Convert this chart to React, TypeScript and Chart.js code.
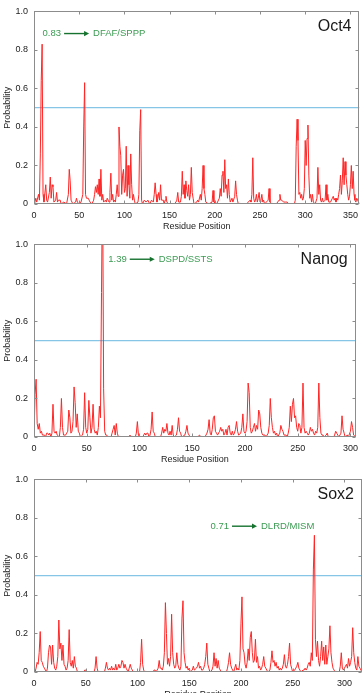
import React, { useEffect, useRef } from 'react';
import { Chart, registerables } from 'chart.js';

Chart.register(...registerables);

// ---------- data ----------
const panelNames = ['Oct4', 'Nanog', 'Sox2'];
const residueMax = [360, 305, 317];
const xTickValues = [0, 50, 100, 150, 200, 250, 300, 350];
const yTickValues = [0, 0.2, 0.4, 0.6, 0.8, 1.0];
const threshold = 0.5;

// [residue position, probability]
const oct4Probability: [number, number][] = [
  [0,0],[1,0.01],[2,0.03],[3,0.01],[5,0.05],[6,0.02],[7,0.26],[8,0.64],[9,0.83],[10,0.05],[11,0.01],[13,0.1],[14,0.02],[15,0.01],[17,0.06],[18,0.14],[19,0.03],[20,0.1],[21,0.09],[22,0.01],[24,0.02],[25,0.06],[26,0.01],[27,0.02],[29,0.02],[30,0],[33,0.01],[36,0],[38,0.05],[39,0.18],[40,0.12],[41,0.02],[43,0],[46,0.01],[47,0.03],[48,0.01],[50,0],[52,0.01],[54,0.05],[55,0.4],[56,0.63],[57,0.05],[58,0.03],[60,0.03],[61,0.02],[62,0.01],[64,0],[66,0.02],[67,0.05],[68,0.09],[69,0.06],[70,0.1],[71,0.05],[72,0.13],[73,0.04],[74,0.18],[75,0.02],[76,0.05],[77,0.01],[79,0.02],[80,0.01],[81,0.03],[82,0.02],[83,0.01],[84,0.06],[85,0.16],[86,0.02],[87,0.05],[88,0.01],[89,0.02],[90,0.01],[91,0.05],[92,0.1],[93,0.04],[94,0.4],[95,0.3],[96,0.25],[97,0.05],[98,0.15],[99,0.18],[100,0.06],[101,0.08],[102,0.3],[103,0.04],[104,0.2],[105,0.1],[106,0.03],[107,0.26],[108,0.1],[109,0.02],[110,0.05],[111,0.02],[112,0],[115,0.01],[116,0.05],[117,0.38],[118,0.49],[119,0.02],[120,0],[122,0.02],[124,0.01],[126,0.02],[128,0],[130,0.02],[132,0.01],[133,0.05],[134,0.11],[135,0.05],[136,0.01],[137,0.03],[138,0.06],[139,0.02],[140,0.1],[141,0.02],[143,0.02],[144,0],[145,0.02],[146,0.04],[147,0.01],[149,0],[155,0],[157,0.01],[158,0.02],[159,0.06],[160,0.01],[162,0.01],[163,0.04],[164,0.17],[165,0.05],[166,0.1],[167,0.03],[168,0.12],[169,0.07],[170,0.04],[171,0.1],[172,0.02],[173,0.05],[174,0.19],[175,0.06],[176,0.03],[177,0],[180,0.01],[181,0.02],[182,0.01],[184,0.05],[185,0.02],[186,0.08],[187,0.2],[188,0.08],[189,0.05],[190,0.01],[193,0],[197,0.01],[198,0.07],[199,0.01],[202,0],[205,0.03],[206,0.08],[207,0.04],[208,0.15],[209,0.17],[210,0.06],[211,0.23],[212,0.08],[213,0.1],[214,0.03],[215,0.13],[216,0.05],[217,0.01],[219,0.03],[220,0.01],[222,0.04],[223,0.12],[224,0.05],[225,0.02],[226,0],[235,0],[237,0.01],[239,0.02],[240,0.01],[241,0.05],[242,0.24],[243,0.03],[244,0.01],[245,0.02],[246,0.05],[247,0.01],[248,0.03],[249,0.06],[250,0.01],[251,0.02],[252,0.05],[253,0.01],[254,0.02],[255,0],[259,0.02],[260,0.08],[261,0.01],[263,0],[268,0],[271,0.02],[272,0.05],[273,0.02],[274,0.02],[276,0.01],[278,0.01],[280,0.01],[282,0],[288,0],[289,0.02],[290,0.3],[291,0.44],[292,0.33],[293,0.05],[294,0.06],[295,0.03],[296,0.05],[297,0.02],[298,0.03],[299,0.08],[300,0.33],[301,0.2],[302,0.34],[303,0.41],[304,0.15],[305,0.03],[306,0.05],[307,0.01],[308,0.05],[309,0.01],[311,0],[313,0.03],[314,0.19],[315,0.05],[316,0.1],[317,0.02],[318,0.01],[319,0.03],[320,0.01],[322,0.02],[323,0.1],[324,0.02],[325,0.05],[326,0.01],[328,0.01],[330,0.03],[331,0.04],[332,0.02],[333,0.03],[334,0.01],[335,0.03],[336,0.02],[337,0.05],[338,0.08],[339,0.15],[340,0.05],[341,0.12],[342,0.24],[343,0.1],[344,0.22],[345,0.15],[346,0.1],[347,0.05],[348,0.02],[349,0.04],[350,0.1],[351,0.2],[352,0.08],[353,0.17],[354,0.05],[355,0.02],[356,0.01],[357,0.03],[359,0.01],[360,0]
];

const nanogProbability: [number, number][] = [
  [0,0],[1,0.22],[2,0.3],[3,0.07],[4,0.04],[5,0.07],[6,0.02],[7,0.03],[8,0.01],[10,0.01],[11,0],[12,0.02],[13,0.02],[14,0.01],[15,0.02],[16,0],[17,0.02],[18,0.17],[19,0.03],[20,0.02],[21,0.03],[22,0.01],[24,0],[25,0.05],[26,0.2],[27,0.05],[28,0.01],[30,0.01],[31,0.02],[32,0.03],[33,0.14],[34,0.1],[35,0.02],[36,0.03],[37,0.08],[38,0.26],[39,0.18],[40,0.05],[41,0.12],[42,0.03],[43,0.02],[44,0],[46,0.01],[47,0.04],[48,0.23],[49,0.05],[50,0.02],[51,0.04],[52,0.19],[53,0.1],[54,0.02],[55,0.05],[56,0.17],[57,0.04],[58,0.02],[59,0.03],[60,0.01],[61,0.05],[62,0.16],[63,0.1],[64,0.75],[65,1.39],[66,0.25],[67,0.03],[68,0.01],[69,0.01],[70,0],[73,0],[74,0.02],[75,0.04],[76,0.06],[77,0.01],[78,0.07],[79,0.02],[80,0],[90,0],[91,0.01],[92,0],[96,0],[97,0.02],[98,0.08],[99,0.01],[100,0],[103,0],[104,0.01],[105,0.02],[106,0.01],[107,0.02],[108,0.02],[109,0],[110,0.01],[111,0.04],[112,0.13],[113,0.03],[114,0.02],[115,0],[120,0],[121,0.02],[122,0.05],[123,0.02],[124,0.04],[125,0.03],[126,0.07],[127,0.02],[128,0.01],[129,0.03],[130,0.01],[131,0.06],[132,0.01],[133,0],[135,0.01],[136,0.04],[137,0.1],[138,0.03],[139,0.02],[140,0],[143,0.01],[144,0.03],[145,0.06],[146,0.02],[147,0.01],[148,0],[155,0],[157,0.01],[158,0],[162,0],[163,0.01],[164,0.02],[165,0.04],[166,0.09],[167,0.02],[168,0.01],[169,0.04],[170,0.1],[171,0.11],[172,0.03],[173,0.02],[174,0.01],[176,0.03],[177,0.05],[178,0.03],[179,0.04],[180,0.01],[181,0.02],[182,0.04],[183,0.01],[184,0.05],[185,0.06],[186,0.02],[187,0.01],[188,0.03],[189,0.01],[190,0.02],[191,0.04],[192,0.08],[193,0.03],[194,0.01],[196,0.02],[197,0.05],[198,0.12],[199,0.03],[200,0.02],[201,0.03],[202,0.08],[203,0.28],[204,0.23],[205,0.05],[206,0.02],[207,0.03],[208,0.05],[209,0.07],[210,0.03],[211,0.06],[212,0.04],[213,0.14],[214,0.12],[215,0.05],[216,0.02],[217,0.01],[219,0.01],[220,0],[222,0.02],[223,0.06],[224,0.2],[225,0.1],[226,0.05],[227,0.02],[228,0.03],[229,0.01],[230,0.02],[231,0],[233,0.02],[234,0.06],[235,0.04],[236,0.03],[237,0.01],[239,0.01],[240,0],[241,0.02],[242,0.05],[243,0.16],[244,0.08],[245,0.17],[246,0.2],[247,0.1],[248,0.11],[249,0.05],[250,0.03],[251,0.07],[252,0.06],[253,0.02],[254,0.05],[255,0.28],[256,0.05],[257,0.02],[258,0.03],[259,0.02],[260,0.01],[261,0.02],[262,0.05],[263,0.03],[264,0.04],[265,0.02],[266,0.01],[267,0.03],[268,0.02],[269,0.05],[270,0.28],[271,0.1],[272,0.02],[273,0.01],[274,0.01],[275,0],[277,0.01],[278,0.02],[279,0],[284,0],[285,0.01],[286,0.03],[287,0.02],[288,0.01],[289,0],[291,0.02],[292,0.11],[293,0.04],[294,0.02],[295,0],[297,0.01],[298,0],[300,0.03],[301,0.08],[302,0.05],[303,0.01],[305,0]
];

const sox2Probability: [number, number][] = [
  [0,0],[1,0],[2,0.02],[3,0.05],[4,0.04],[5,0.1],[6,0.21],[7,0.06],[8,0.05],[9,0.03],[10,0.02],[11,0.01],[12,0],[13,0.02],[14,0.1],[15,0.14],[16,0.13],[17,0.04],[18,0.14],[19,0.05],[20,0.02],[21,0.01],[22,0.03],[23,0.08],[24,0.27],[25,0.12],[26,0.15],[27,0.06],[28,0.14],[29,0.04],[30,0.03],[31,0.01],[32,0.02],[33,0.06],[34,0.22],[35,0.05],[36,0.03],[37,0.06],[38,0.02],[39,0.08],[40,0.03],[41,0.02],[42,0],[48,0],[49,0.01],[50,0.01],[51,0],[58,0],[59,0.02],[60,0.08],[61,0.02],[62,0],[68,0],[69,0.02],[70,0.05],[71,0.02],[72,0.01],[73,0.02],[74,0.01],[75,0.03],[76,0.01],[77,0.02],[78,0.01],[79,0.04],[80,0.01],[81,0.02],[82,0.04],[83,0.02],[84,0.03],[85,0.06],[86,0.05],[87,0.02],[88,0.04],[89,0.02],[90,0.01],[91,0],[92,0.02],[93,0.04],[94,0.02],[95,0.01],[96,0],[102,0],[103,0.05],[104,0.17],[105,0.04],[106,0.01],[107,0],[115,0],[116,0.01],[117,0.01],[118,0],[120,0.02],[121,0.06],[122,0.02],[123,0.02],[124,0.01],[125,0.03],[126,0.1],[127,0.36],[128,0.2],[129,0.04],[130,0.07],[131,0.03],[132,0.08],[133,0.3],[134,0.1],[135,0.04],[136,0.02],[137,0.03],[138,0.1],[139,0.04],[140,0.02],[141,0.01],[142,0.03],[143,0.28],[144,0.37],[145,0.1],[146,0.05],[147,0.02],[148,0.03],[149,0.01],[150,0.02],[151,0],[153,0.01],[154,0.03],[155,0.01],[157,0.02],[158,0.03],[159,0.05],[160,0.02],[161,0.03],[162,0.01],[163,0.01],[164,0.02],[165,0.04],[166,0.08],[167,0.15],[168,0.04],[169,0.02],[170,0],[172,0.01],[173,0.03],[174,0.1],[175,0.03],[176,0.07],[177,0.02],[178,0.06],[179,0.02],[180,0.01],[181,0],[186,0],[187,0.02],[188,0.05],[189,0.1],[190,0.04],[191,0.02],[192,0.01],[193,0],[194,0.02],[195,0.04],[196,0.01],[197,0.02],[198,0.01],[199,0.06],[200,0.25],[201,0.39],[202,0.12],[203,0.1],[204,0.04],[205,0.02],[206,0.05],[207,0.12],[208,0.06],[209,0.18],[210,0.21],[211,0.1],[212,0.05],[213,0.06],[214,0.17],[215,0.05],[216,0.08],[217,0.02],[218,0.03],[219,0.01],[220,0.02],[221,0.04],[222,0.08],[223,0.03],[224,0.02],[225,0.01],[226,0],[228,0.01],[229,0.05],[230,0.11],[231,0.05],[232,0.06],[233,0.03],[234,0.05],[235,0.02],[236,0.03],[237,0.01],[238,0.02],[239,0.01],[240,0.02],[241,0.04],[242,0.09],[243,0.03],[244,0.02],[245,0.04],[246,0.08],[247,0.15],[248,0.04],[249,0.02],[250,0],[252,0.01],[253,0.02],[254,0.03],[255,0.05],[256,0.02],[257,0.01],[258,0],[260,0.01],[261,0.01],[262,0.02],[263,0.01],[264,0.02],[265,0.04],[266,0.05],[267,0.03],[268,0.1],[269,0.06],[270,0.53],[271,0.71],[272,0.17],[273,0.08],[274,0.16],[275,0.06],[276,0.03],[277,0.08],[278,0.16],[279,0.06],[280,0.13],[281,0.04],[282,0.14],[283,0.04],[284,0.08],[285,0.12],[286,0.24],[287,0.1],[288,0.05],[289,0.02],[290,0.01],[291,0],[295,0],[296,0.03],[297,0.1],[298,0.02],[299,0.01],[300,0.02],[301,0.03],[302,0.04],[303,0.02],[304,0.07],[305,0.03],[306,0.05],[307,0.08],[308,0.23],[309,0.1],[310,0.05],[311,0.02],[312,0.01],[313,0.08],[314,0.03],[315,0.02],[316,0.01],[317,0]
];

// peak annotations: value text, motif text, anchor (residue, probability)
const noteValues = ['0.83', '1.39', '0.71'];
const noteMotifs = ['DFAF/SPPP', 'DSPD/SSTS', 'DLRD/MISM'];
const noteResidues = [9.5, 70.4, 170.6];
const noteHeights = [0.885, 0.923, 0.757];

const seriesList = [oct4Probability, nanogProbability, sox2Probability];

// ---------- styling ----------
const FONT = '"Liberation Sans", Arial, sans-serif';
const CANVAS_W = 364;
const CANVAS_H = 235;
const panelTops = [0, 233.3, 467.7];

type Note = { value: string; motif: string; x: number; y: number };

const framePlugin = {
  id: 'frameAndNotes',
  afterDatasetsDraw(chart: any, _args: any, opts: any) {
    const { ctx, chartArea, scales } = chart;
    const xs = scales.x;
    const ys = scales.y;
    const L = Math.round(chartArea.left) + 0.5;
    const R = Math.round(chartArea.right) - 0.5;
    const T = Math.round(chartArea.top) + 0.5;
    const B = Math.round(chartArea.bottom) - 0.5;
    ctx.save();
    ctx.strokeStyle = '#8c8c8c';
    ctx.lineWidth = 1;
    ctx.strokeRect(L, T, R - L, B - T);
    const tl = 3;
    ctx.beginPath();
    xs.ticks.forEach((t: any) => {
      const px = Math.round(xs.getPixelForValue(t.value)) + 0.5;
      ctx.moveTo(px, B); ctx.lineTo(px, B - tl);
      ctx.moveTo(px, T); ctx.lineTo(px, T + tl);
    });
    ys.ticks.forEach((t: any) => {
      const py = Math.round(ys.getPixelForValue(t.value)) + 0.5;
      ctx.moveTo(L, py); ctx.lineTo(L + tl, py);
      ctx.moveTo(R, py); ctx.lineTo(R - tl, py);
    });
    ctx.stroke();

    // panel name
    ctx.fillStyle = '#1a1a1a';
    ctx.font = `16px ${FONT}`;
    ctx.textAlign = 'right';
    ctx.textBaseline = 'middle';
    ctx.fillText(opts.name, chartArea.right - 8, chartArea.top + 15);

    // annotation
    const note: Note = opts.note;
    const x0 = xs.getPixelForValue(note.x);
    const y0 = ys.getPixelForValue(note.y);
    ctx.font = `9.5px ${FONT}`;
    ctx.textAlign = 'left';
    ctx.fillStyle = '#3b9b52';
    ctx.fillText(note.value, x0, y0);
    const w = ctx.measureText(note.value).width;
    const a0 = x0 + w + 3;
    const a1 = a0 + 25;
    ctx.strokeStyle = '#16732f';
    ctx.fillStyle = '#16732f';
    ctx.lineWidth = 1.4;
    ctx.beginPath();
    ctx.moveTo(a0, y0); ctx.lineTo(a1 - 4, y0);
    ctx.stroke();
    ctx.beginPath();
    ctx.moveTo(a1, y0); ctx.lineTo(a1 - 5, y0 - 2.6); ctx.lineTo(a1 - 5, y0 + 2.6);
    ctx.closePath();
    ctx.fill();
    ctx.fillStyle = '#3b9b52';
    ctx.fillText(note.motif, a1 + 4, y0);
    ctx.restore();
  },
};

function Panel(props: { idx: number }) {
  const { idx } = props;
  const ref = useRef<HTMLCanvasElement>(null);
  useEffect(() => {
    const xMax = residueMax[idx];
    const pts = seriesList[idx].map(([x, y]) => ({ x, y }));
    const note: Note = {
      value: noteValues[idx],
      motif: noteMotifs[idx],
      x: noteResidues[idx],
      y: noteHeights[idx],
    };
    const tickFont = { family: FONT, size: 9 };
    const chart = new Chart(ref.current as HTMLCanvasElement, {
      type: 'line',
      data: {
        datasets: [
          {
            data: pts,
            borderColor: '#ff2626',
            borderWidth: 1,
            pointRadius: 0,
            tension: 0,
            fill: false,
            order: 0,
          },
          {
            data: [
              { x: 0, y: threshold },
              { x: xMax, y: threshold },
            ],
            borderColor: '#86c5e6',
            borderWidth: 1.3,
            pointRadius: 0,
            fill: false,
            order: 1,
          },
        ],
      },
      options: {
        animation: false,
        responsive: false,
        maintainAspectRatio: false,
        events: [],
        layout: { padding: { top: 10, right: 2, left: 0, bottom: 0 } },
        plugins: {
          legend: { display: false },
          tooltip: { enabled: false },
          frameAndNotes: { name: panelNames[idx], note },
        } as any,
        scales: {
          x: {
            type: 'linear',
            min: 0,
            max: xMax,
            afterBuildTicks: (s: any) => {
              s.ticks = xTickValues.filter((v) => v <= xMax).map((v) => ({ value: v }));
            },
            afterFit: (s: any) => {
              s.height = 31;
            },
            grid: { display: false, drawTicks: false, tickLength: 0 },
            border: { display: false },
            ticks: { padding: 6, font: tickFont, color: '#222', maxRotation: 0, autoSkip: false },
            title: {
              display: true,
              text: 'Residue Position',
              font: tickFont,
              color: '#222',
              padding: { top: 0, bottom: 3 },
            },
          },
          y: {
            type: 'linear',
            min: 0,
            max: 1,
            afterBuildTicks: (s: any) => {
              s.ticks = yTickValues.map((v) => ({ value: v }));
            },
            afterFit: (s: any) => {
              s.width = 34;
            },
            grid: { display: false, drawTicks: false, tickLength: 0 },
            border: { display: false },
            ticks: {
              padding: 6,
              font: tickFont,
              color: '#222',
              callback: (v: any) => (Number(v) === 0 ? '0' : Number(v).toFixed(1)),
            },
            title: {
              display: true,
              text: 'Probability',
              font: tickFont,
              color: '#222',
              padding: { top: 2, bottom: 0 },
            },
          },
        },
      } as any,
      plugins: [framePlugin],
    });
    return () => chart.destroy();
  }, [idx]);
  return (
    <canvas
      ref={ref}
      width={CANVAS_W}
      height={CANVAS_H}
      style={{ position: 'absolute', left: 0, top: panelTops[idx], display: 'block', width: CANVAS_W, height: CANVAS_H }}
    />
  );
}

export default function App() {
  return (
    <div
      style={{
        position: 'absolute',
        left: 0,
        top: 0,
        width: 364,
        height: 693,
        overflow: 'hidden',
        background: '#ffffff',
      }}
    >
      <Panel idx={0} />
      <Panel idx={1} />
      <Panel idx={2} />
    </div>
  );
}
